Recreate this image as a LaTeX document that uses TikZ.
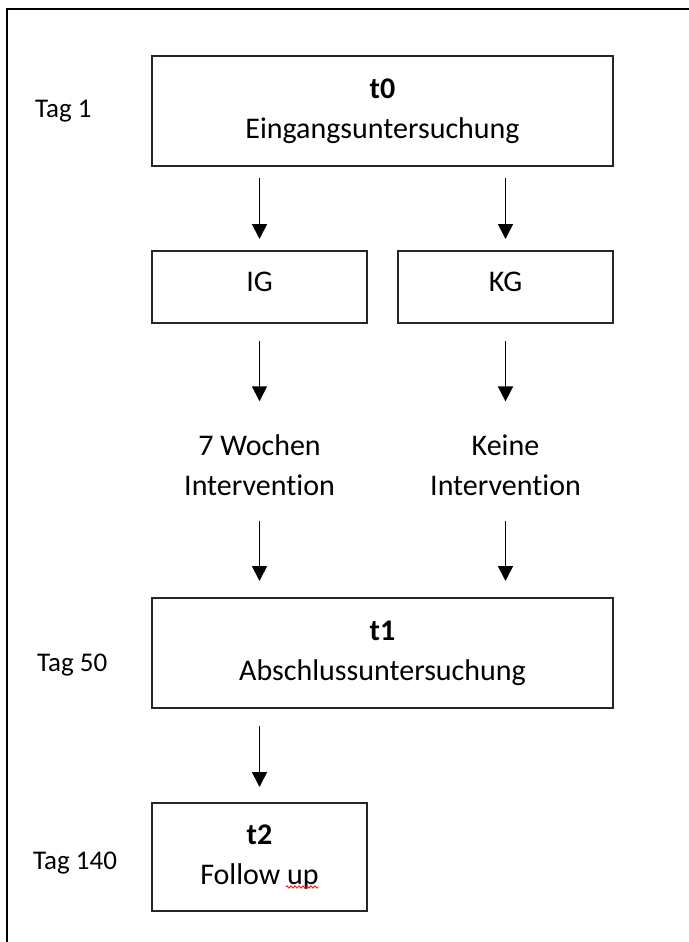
\documentclass[tikz,border=0pt]{standalone}
\usepackage{fontspec}
\setmainfont{Carlito}[Ligatures=NoCommon]
\usetikzlibrary{arrows.meta,decorations.pathmorphing}
\begin{document}
\begin{tikzpicture}[x=1pt,y=-1pt,
  boxfont/.style={font=\fontsize{30}{40}\selectfont},
  tagfont/.style={font=\fontsize{27}{32}\selectfont},
  wide/.style={draw=black!85, line width=2pt, boxfont, align=center, inner sep=0pt, minimum width=461pt, minimum height=110pt},
  small/.style={draw=black!85, line width=2pt, boxfont, align=center, inner sep=0pt, minimum width=215pt, minimum height=72pt},
  plain/.style={boxfont, align=center, inner sep=0pt},
  tag/.style={tagfont, anchor=base west, inner sep=0pt},
  arr/.style={line width=1.7pt, -{Triangle[width=15pt,length=15pt]}}
]
\useasboundingbox (0,0) rectangle (688,942);
\fill[white] (0,0) rectangle (688,942);
% outer frame (only top and left edges are in view)
\draw[line width=2.5pt] (7,9) rectangle (720,980);

\node[wide] (t0) at (382.5,111) {\textbf{t0}\\Eingangsuntersuchung};
\node[small, text depth=10pt] (ig) at (259.5,287) {IG};
\node[small, text depth=10pt] (kg) at (505.5,287) {KG};
\node[plain] (iv) at (259.5,465) {7 Wochen\\Intervention};
\node[plain] (kv) at (505.5,465) {Keine\\Intervention};
\node[wide] (t1) at (382.5,653) {\textbf{t1}\\Abschlussuntersuchung};
\node[small, minimum height=108pt] (t2) at (259.5,857) {\textbf{t2}\\Follow up};

\node[tag] (tag1) at (35,117) {Tag 1};
\node[tag] (tag50) at (37,671) {Tag 50};
\node[tag] (tag140) at (33,869) {Tag 140};

\draw[arr, shorten <=11pt, shorten >=11pt] (t0.south -| ig.north) -- (ig.north);
\draw[arr, shorten <=11pt, shorten >=11pt] (t0.south -| kg.north) -- (kg.north);
\draw[arr, shorten <=17pt, shorten >=33pt] (ig.south) -- (iv.north);
\draw[arr, shorten <=17pt, shorten >=33pt] (kg.south) -- (kv.north);
\draw[arr, shorten <=25pt, shorten >=16pt] (iv.south) -- (iv.south |- t1.north);
\draw[arr, shorten <=25pt, shorten >=16pt] (kv.south) -- (kv.south |- t1.north);
\draw[arr, shorten <=17pt, shorten >=15pt] (t1.south -| t2.north) -- (t2.north);

% spell-check squiggle under "up"
\draw[red, line width=0.8pt, decorate, decoration={zigzag, segment length=4pt, amplitude=1.2pt}] (286,887) -- (318,887);
\end{tikzpicture}
\end{document}
